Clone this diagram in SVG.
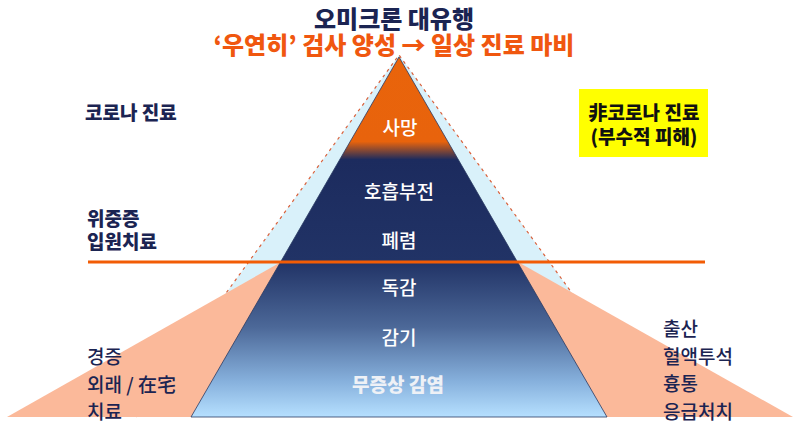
<svg xmlns="http://www.w3.org/2000/svg" width="800" height="430" viewBox="0 0 800 430">
  <defs>
    <linearGradient id="pyr" gradientUnits="userSpaceOnUse" x1="0" y1="57" x2="0" y2="417">
      <stop offset="0" stop-color="#e9640b"/>
      <stop offset="0.235" stop-color="#e8630c"/>
      <stop offset="0.285" stop-color="#1c2b5e"/>
      <stop offset="0.57" stop-color="#213366"/>
      <stop offset="0.75" stop-color="#4c6898"/>
      <stop offset="0.9" stop-color="#86b0dc"/>
      <stop offset="1" stop-color="#b6e0ff"/>
    </linearGradient>
    <style>
      text { font-family: "Noto Sans CJK KR", "Noto Sans", sans-serif; dominant-baseline: central; }
      .title { font-size: 24px; font-weight: 900; text-anchor: middle; }
      .lab { font-size: 19px; font-weight: 900; fill: #1b2452; }
      .side { font-size: 19px; font-weight: 500; fill: #1b2452; }
      .inner { font-size: 19px; font-weight: 500; fill: #ffffff; text-anchor: middle; }
      .box { font-size: 19px; font-weight: 900; fill: #111111; text-anchor: middle; }
    </style>
  </defs>
  <rect width="800" height="430" fill="#ffffff"/>

  <g id="title">
    <text class="title" x="394" y="17" fill="#1b2452">오미크론 대유행</text>
    <text class="title" x="394" y="43" fill="#f0570f">‘우연히’ 검사 양성 → 일상 진료 마비</text>
  </g>

  <g id="outer-pyramid">
    <polygon points="399,55 136,417 662,417" fill="#d9f1fa"/>
    <path d="M136,417 L399,55 L662,417" fill="none" stroke="#d9603a" stroke-width="1.2" stroke-dasharray="3 4"/>
  </g>

  <g id="side-triangles">
    <polygon points="7,417 281,262 300,417" fill="#fbb99a"/>
    <polygon points="793,417 518,262 500,417" fill="#fbb99a"/>
  </g>

  <g id="pyramid">
    <polygon points="399,57 191,417 607,417" fill="url(#pyr)" stroke="#2a3a62" stroke-width="0.8"/>
    <text class="inner" x="400" y="126">사망</text>
    <text class="inner" x="399" y="190">호흡부전</text>
    <text class="inner" x="399" y="239">폐렴</text>
    <text class="inner" x="399" y="286">독감</text>
    <text class="inner" x="399" y="336">감기</text>
    <text class="inner" x="398" y="383" style="font-weight:900; fill:#eef1f6">무증상 감염</text>
  </g>

  <g id="divider">
    <line x1="88" y1="262" x2="705" y2="262" stroke="#f25c05" stroke-width="3"/>
  </g>

  <g id="label-corona">
    <text class="lab" x="85" y="111">코로나 진료</text>
  </g>
  <g id="label-severe">
    <text class="lab" x="87" y="217">위중증</text>
    <text class="lab" x="87" y="240">입원치료</text>
  </g>
  <g id="label-mild">
    <text class="side" x="87" y="355">경증</text>
    <text class="side" x="87" y="383">외래 / 在宅</text>
    <text class="side" x="87" y="410">치료</text>
  </g>

  <g id="label-noncorona">
    <rect x="579" y="89" width="129" height="68" fill="#ffff00"/>
    <text class="box" x="644" y="111">非코로나 진료</text>
    <text class="box" x="644" y="135">(부수적 피해)</text>
  </g>
  <g id="label-other">
    <text class="side" x="663" y="327">출산</text>
    <text class="side" x="663" y="355">혈액투석</text>
    <text class="side" x="663" y="382">흉통</text>
    <text class="side" x="663" y="410">응급처치</text>
  </g>
</svg>
